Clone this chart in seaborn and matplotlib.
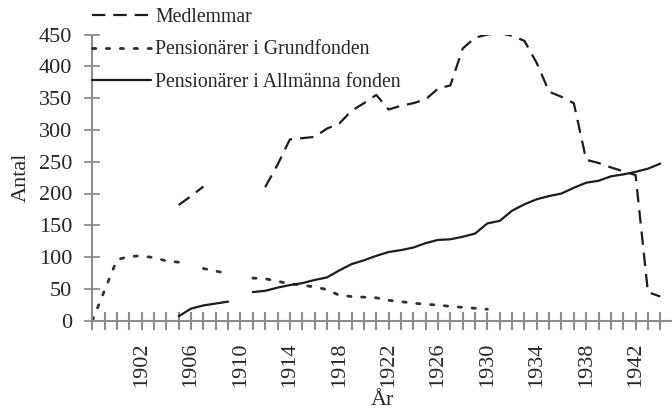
import seaborn as sns
import matplotlib.pyplot as plt
import pandas as pd
import numpy as np
from matplotlib.lines import Line2D

# -----------------------------
# Data
# -----------------------------
nan = np.nan
years = list(range(1898, 1945))

medlemmar = [nan, nan, nan, nan, nan, nan, nan,           # 1898-1904
             182, 196, 211,                               # 1905-1907
             nan, nan, nan, nan,                          # 1908-1911
             210, 245, 285, 287, 289, 302, 310, 330, 342, 355,   # 1912-1921
             332, 338, 342, 348, 365, 370, 428, 445, 450, 452,   # 1922-1931
             448, 440, 405, 360, 352, 342, 253, 248, 241, 235,   # 1932-1941
             229, 45, 38]                                         # 1942-1944

grundfonden = [0, 48, 96, 101, 102, 99, 94, 92,           # 1898-1905
               nan, 82, 78, 74, nan,                      # 1906-1910
               67, 66, 62, 58, 56, 53, 49, 40, 38, 37,    # 1911-1920
               36, 32, 30, 27.5, 26, 24.5, 22.5, 21, 19.5, 18,  # 1921-1930
               nan, nan, nan, nan, nan, nan, nan,         # 1931-1937
               nan, nan, nan, nan, nan, nan, nan]         # 1938-1944

allmanna = [nan, nan, nan, nan, nan, nan, nan,            # 1898-1904
            7, 19, 24, 27, 30, nan,                       # 1905-1910
            45, 47, 52, 56, 59, 64, 68, 79, 89, 95,       # 1911-1920
            102, 108, 111, 115, 122, 127, 128, 132, 137, 153,   # 1921-1930
            157, 173, 183, 191, 196, 200, 209, 217, 220, 227,   # 1931-1940
            230, 234, 239, 247]                                 # 1941-1944

series_names = ["Medlemmar", "Pensionärer i Grundfonden", "Pensionärer i Allmänna fonden"]
label_years = list(range(1902, 1943, 4))

df = pd.DataFrame({"År": years,
                   series_names[0]: medlemmar,
                   series_names[1]: grundfonden,
                   series_names[2]: allmanna})

# -----------------------------
# Styling
# -----------------------------
sns.set_style("white")
plt.rcParams["font.family"] = ["Liberation Serif", "DejaVu Serif"]

ink = "#1c1c1c"
axis_grey = "#8c8c8c"
styles = {
    series_names[0]: dict(linestyle=(0, (6, 3.6)), linewidth=1.6, color=ink),
    series_names[1]: dict(linestyle=(0, (1.2, 3.8)), linewidth=2.0, color="#303030",
                          dash_capstyle="round"),
    series_names[2]: dict(linestyle="-", linewidth=1.6, color=ink),
}

fig = plt.figure(figsize=(6.72, 4.12), dpi=100)
ax = fig.add_axes([92.3 / 672, 1 - 320.7 / 412, 1 - 92.3 / 672, (320.7 - 34.5) / 412])

# draw each contiguous run of a series (gaps where data is missing)
for name in series_names:
    sub = df[["År", name]].copy()
    sub["run"] = sub[name].isna().cumsum()
    sub = sub.dropna()
    for _, seg in sub.groupby("run"):
        sns.lineplot(data=seg, x="År", y=name, ax=ax, legend=False,
                     estimator=None, **styles[name])

# -----------------------------
# Axes
# -----------------------------
ax.set_xlim(1898, 1944.95)
ax.set_ylim(0, 450)
ax.set_yticks(range(0, 451, 50))
ax.set_xticks(years)
ax.set_xticklabels([str(y) if y in label_years else "" for y in years],
                   rotation=90, fontsize=16)
ax.tick_params(axis="y", left=True, labelsize=16, direction="inout", length=11,
               width=1.3, color=axis_grey, pad=9)
ax.tick_params(axis="x", bottom=True, direction="inout", length=13, width=1.5,
               color=axis_grey, pad=9)

for side in ["top", "right"]:
    ax.spines[side].set_visible(False)
for side in ["left", "bottom"]:
    ax.spines[side].set_color(axis_grey)
    ax.spines[side].set_linewidth(1.5)

ax.set_xlabel("År", fontsize=16, labelpad=3)
ax.set_ylabel("Antal", fontsize=16, labelpad=6)

# legend in the top-left corner
handles = [Line2D([], [], **styles[n]) for n in series_names]
fig.legend(handles, series_names, loc="upper left",
           bbox_to_anchor=(92 / 672, 1 - 8 / 412), frameon=False,
           fontsize=14.2, handlelength=3.0, handletextpad=0.2,
           labelspacing=0.68, borderpad=0, borderaxespad=0)

fig.savefig("out.png", dpi=100)
plt.close()
